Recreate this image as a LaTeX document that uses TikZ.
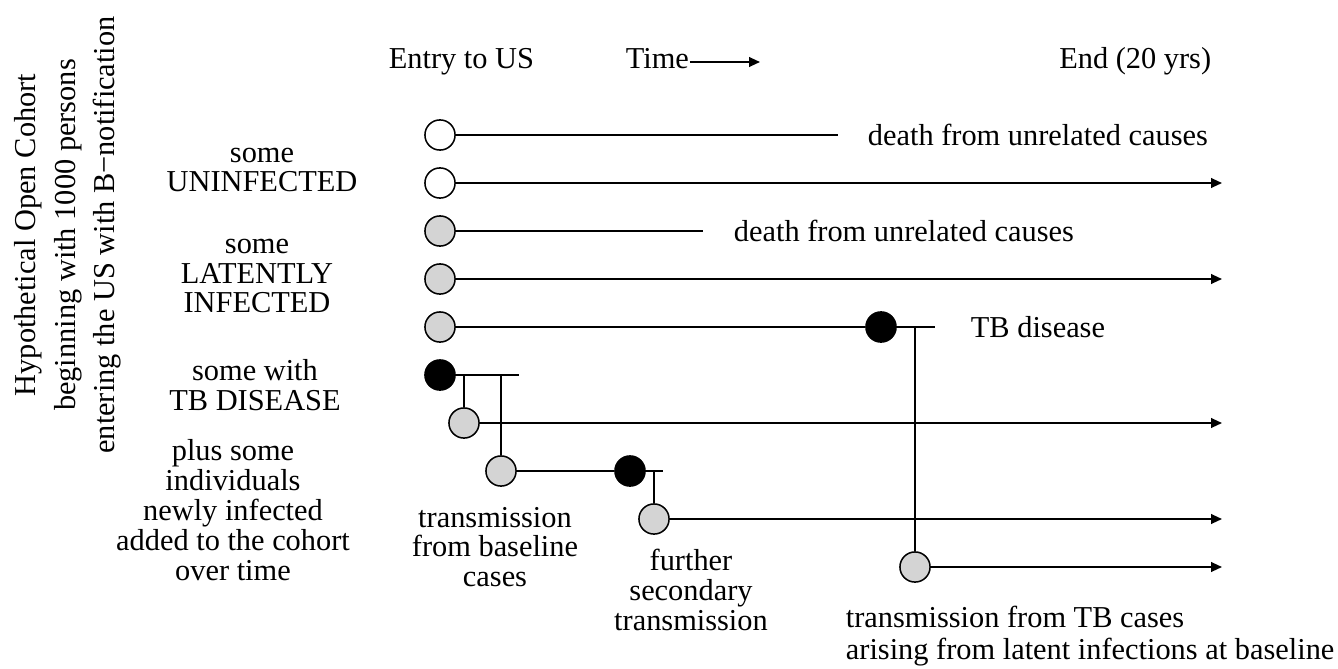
\documentclass[tikz,border=0pt]{standalone}
\usepackage{fontspec}
\setmainfont{Liberation Serif}
\usetikzlibrary{arrows.meta}
\definecolor{latentgrey}{gray}{0.83}

\begin{document}
\begin{tikzpicture}[x=0.395pt,y=-0.395pt,line width=0.7pt,
	font=\fontsize{12}{11.8}\selectfont,
	>={Triangle[length=4.3pt,width=3.8pt]},
	person/.style={circle,draw,line width=0.6pt,inner sep=0pt,minimum size=11.9pt},
	uninf/.style={person,fill=white},
	latent/.style={person,fill=latentgrey},
	sick/.style={person,fill=black},
	lbl/.style={inner sep=0pt,align=center},
	note/.style={inner sep=0pt,anchor=west}]
	\useasboundingbox (0,0) rectangle (1338,669);
	% header
	\node[inner sep=0pt,anchor=base west](entry) at (388,69){Entry to US};
	\node[inner sep=0pt,anchor=base west](time) at (625,69){Time};
	\node[inner sep=0pt,anchor=base east](end) at (1212,69){End (20 yrs)};
	\coordinate (tarr) at (760,62);
	\draw[->] (tarr -| time.east) -- (tarr);
	% cohort description
	\node[lbl,rotate=90,font=\fontsize{12}{15.6}\selectfont](cohort) at (68,235)
		{Hypothetical Open Cohort\\beginning with 1000 persons\\entering the US with B\textminus notification};
	\node[lbl](grpu) at (262,170){some\\UNINFECTED};
	\node[lbl](grpl) at (257,276){some\\LATENTLY\\INFECTED};
	\node[lbl](grpd) at (255,385){some with\\TB DISEASE};
	\node[lbl](grpn) at (233,510){plus some\\individuals\\newly infected\\added to the cohort\\over time};
	% people
	\node[uninf](u1) at (440,135){};
	\node[uninf](u2) at (440,183){};
	\node[latent](l1) at (440,231){};
	\node[latent](l2) at (440,279){};
	\node[latent](l3) at (440,327){};
	\node[sick](d1) at (440,375){};
	\node[latent](n1) at (464,423){};
	\node[latent](n2) at (501,471){};
	\node[sick](d2) at (630,471){};
	\node[latent](n3) at (654,519){};
	\node[sick](d3) at (881,327){};
	\node[latent](n4) at (915,567){};
	% ends of the time lines
	\coordinate (u1end) at (838,135);
	\coordinate (u2end) at (1222,183);
	\coordinate (l1end) at (703,231);
	\coordinate (l2end) at (1222,279);
	\coordinate (n1end) at (1222,423);
	\coordinate (n3end) at (1222,519);
	\coordinate (n4end) at (1222,567);
	\coordinate (t1) at (519,375);
	\coordinate (t2) at (663,471);
	\coordinate (t3) at (935,327);
	\coordinate (j1) at (464,375);
	\coordinate (j2) at (501,375);
	\coordinate (j3) at (654,471);
	\coordinate (j4) at (915,327);
	\path[draw](u1) edge (u1end);
	\path[draw,->](u2) edge (u2end);
	\path[draw](l1) edge (l1end);
	\path[draw,->](l2) edge (l2end);
	\path[draw](l3) edge (d3);
	\path[draw](d3) edge (t3);
	\path[draw](d1) edge (t1);
	\path[draw](j1) edge (n1);
	\path[draw](j2) edge (n2);
	\path[draw,->](n1) edge (n1end);
	\path[draw](n2) edge (d2);
	\path[draw](d2) edge (t2);
	\path[draw](j3) edge (n3);
	\path[draw,->](n3) edge (n3end);
	\path[draw](j4) edge (n4);
	\path[draw,->](n4) edge (n4end);
	% outcomes
	\node[note](dth1) at (867,135){death from unrelated causes};
	\node[note](dth2) at (733,231){death from unrelated causes};
	\node[note](tbd) at (970,327){TB disease};
	\node[lbl](tr1) at (495,547){transmission\\from baseline\\cases};
	\node[lbl](tr2) at (691,590){further\\secondary\\transmission};
	\node[lbl,align=left,anchor=west,font=\fontsize{12}{12.4}\selectfont](tr3) at (845,636){transmission from TB cases\\arising from latent infections at baseline};
\end{tikzpicture}
\end{document}
